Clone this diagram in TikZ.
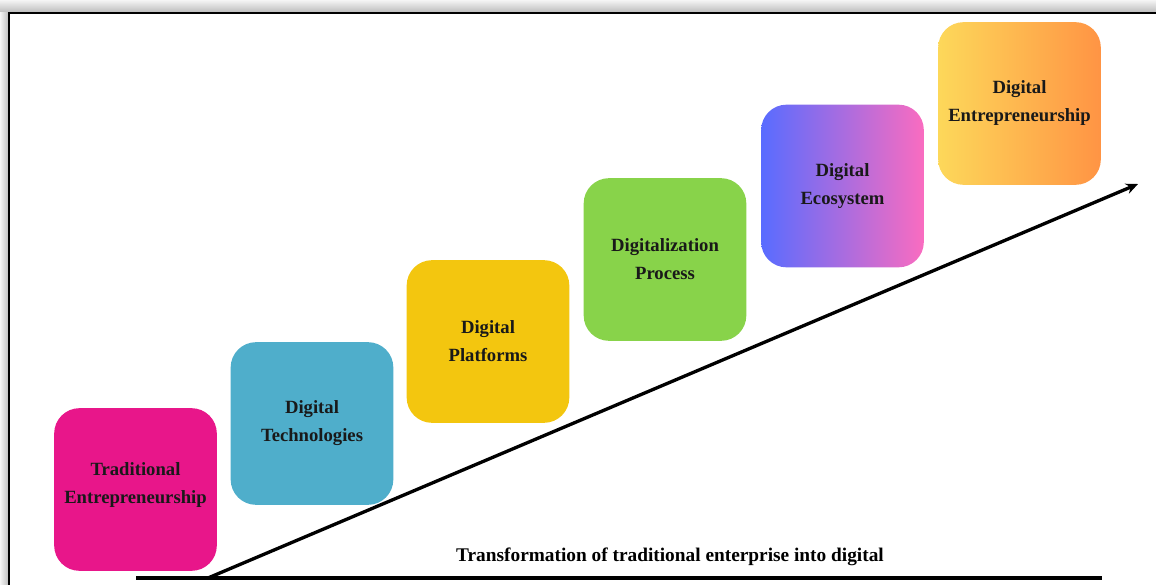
\documentclass[tikz,border=0pt]{standalone}
\usepackage{fontspec}
\setmainfont{Liberation Serif}
\usetikzlibrary{arrows.meta}
\tikzset{every picture/.style={line width=0.75pt}}
\tikzset{
  stagebox/.style={rounded corners=19pt, minimum width=122pt, minimum height=122pt,
    align=center, font=\bfseries\fontsize{14}{21}\selectfont, text=black!90},
  axisline/.style={line width=2.5pt},
}
\definecolor{tradpink}{RGB}{232,22,138}
\definecolor{techblue}{RGB}{79,174,203}
\definecolor{platyellow}{RGB}{243,198,15}
\definecolor{procgreen}{RGB}{136,211,74}
\definecolor{ecoleft}{RGB}{88,108,255}
\definecolor{ecoright}{RGB}{250,108,192}
\definecolor{entleft}{RGB}{253,216,90}
\definecolor{entright}{RGB}{255,148,68}

\begin{document}
\begin{tikzpicture}[x=0.75pt,y=0.75pt,yscale=-1,xscale=1]
\useasboundingbox (0,0) rectangle (1156,585);

%Frame shadow
\fill [top color=gray!8, bottom color=gray!55] (0,0) rectangle (1156,13);
\fill [left color=gray!8, right color=gray!55] (0,13) rectangle (9,585);
%Frame
\draw [line width=2pt] (9,585) -- (9,13) -- (1156,13);

%Stages
\node [stagebox, fill=tradpink, text depth=10pt] (trad) at (135.5,489.5) {Traditional\\Entrepreneurship};
\node [stagebox, fill=techblue] (tech) at (312,423.5) {Digital\\Technologies};
\node [stagebox, fill=platyellow] (plat) at (488,341.5) {Digital\\Platforms};
\node [stagebox, fill=procgreen] (proc) at (665,259.5) {Digitalization\\Process};
\node [stagebox, left color=ecoleft, right color=ecoright] (eco) at (842.5,186) {Digital\\Ecosystem};
\node [stagebox, left color=entleft, right color=entright] (dent) at (1019.5,103.5) {Digital\\Entrepreneurship};

%Axis
\coordinate (base0) at (136,578);
\coordinate (base1) at (1102,578);
\coordinate (arr0) at (208,578);
\coordinate (arr1) at (1138,184);
\draw [axisline] (base0) -- (base1);
\draw [axisline, -{Stealth[length=9pt,width=8pt]}] (arr0) -- (arr1);
\node [font=\bfseries\fontsize{14.5}{16}\selectfont] (caption) at (670,557) {Transformation of traditional enterprise into digital};
\end{tikzpicture}
\end{document}
